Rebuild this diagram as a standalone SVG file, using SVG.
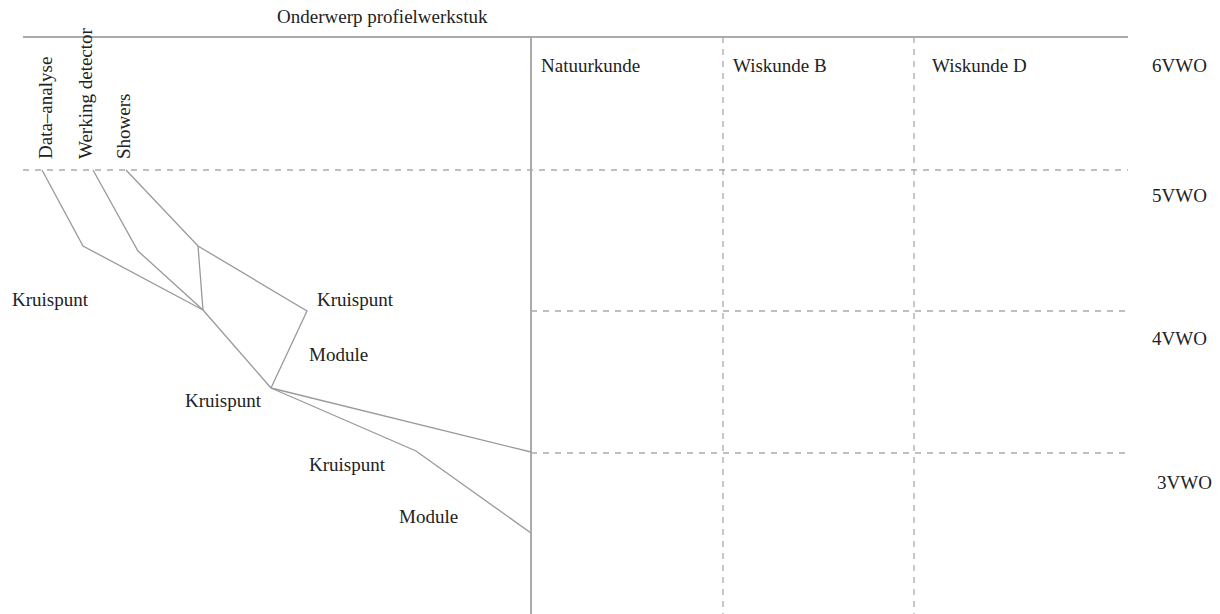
<svg xmlns="http://www.w3.org/2000/svg" width="1220" height="614" viewBox="0 0 1220 614">
<style>
text{font-family:"Liberation Serif","Times New Roman",serif;font-size:19px;fill:#222}
.solid{stroke:#aaa;stroke-width:2;fill:none}
.dash{stroke:#aaa;stroke-width:1.3;stroke-dasharray:6 6;fill:none}
.link{stroke:#999;stroke-width:1.3;fill:none}
</style>
<rect width="1220" height="614" fill="#fff"/>
<g id="grid">
<line class="solid" x1="23" y1="37" x2="1128" y2="37"/>
<line class="solid" x1="531" y1="37" x2="531" y2="614"/>
<line class="dash" x1="723" y1="37" x2="723" y2="614"/>
<line class="dash" x1="914" y1="37" x2="914" y2="614"/>
<line class="dash" x1="23" y1="170" x2="1128" y2="170"/>
<line class="dash" x1="531" y1="311" x2="1128" y2="311"/>
<line class="dash" x1="531" y1="453" x2="1128" y2="453"/>
</g>
<g id="title"><text x="277" y="23">Onderwerp profielwerkstuk</text></g>
<g id="columns">
<text x="541" y="72">Natuurkunde</text>
<text x="733" y="72">Wiskunde B</text>
<text x="932" y="72">Wiskunde D</text>
</g>
<g id="years">
<text x="1152" y="72">6VWO</text>
<text x="1152" y="202">5VWO</text>
<text x="1152" y="345">4VWO</text>
<text x="1157" y="489">3VWO</text>
</g>
<g id="topics">
<text transform="translate(52,159) rotate(-90)">Data–analyse</text>
<text transform="translate(92,159) rotate(-90)">Werking detector</text>
<text transform="translate(130,159) rotate(-90)">Showers</text>
</g>
<g id="connectors">
<polyline class="link" points="42,170 83,246 203,310"/>
<polyline class="link" points="93,170 138,251 203,310"/>
<polyline class="link" points="126,170 198,246 307,311 271,388"/>
<line class="link" x1="198" y1="246" x2="203" y2="310"/>
<line class="link" x1="203" y1="310" x2="271" y2="388"/>
<line class="link" x1="271" y1="388" x2="531" y2="452"/>
<polyline class="link" points="271,388 416,451 531,533"/>
</g>
<g id="labels">
<text x="12" y="306">Kruispunt</text>
<text x="317" y="306">Kruispunt</text>
<text x="309" y="361">Module</text>
<text x="185" y="407">Kruispunt</text>
<text x="309" y="471">Kruispunt</text>
<text x="399" y="523">Module</text>
</g>
</svg>
